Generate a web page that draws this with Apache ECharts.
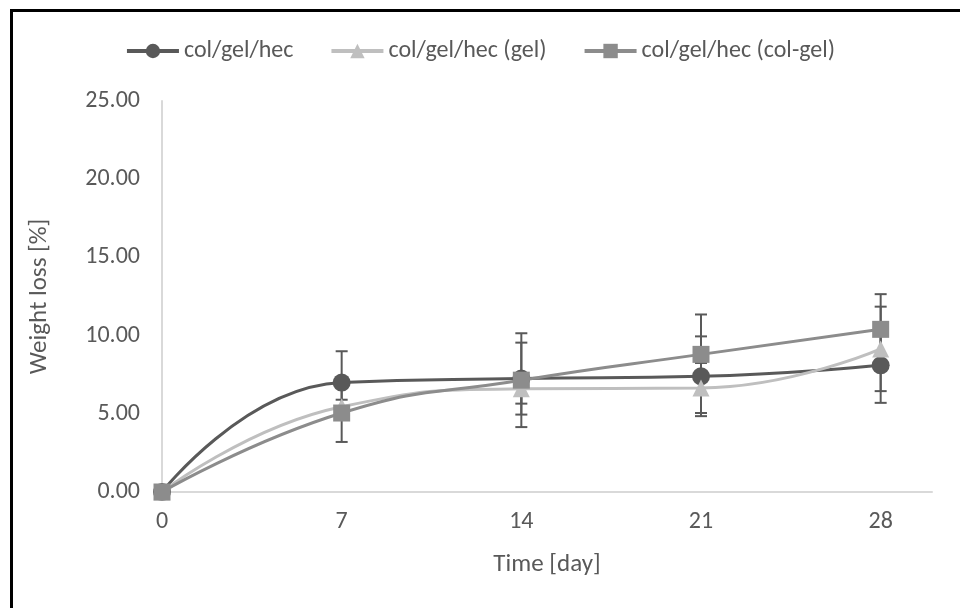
<!DOCTYPE html>
<html>
<head>
<meta charset="utf-8">
<script src="https://cdn.jsdelivr.net/npm/echarts@6/dist/echarts.min.js"></script>
<style>
  html, body { margin: 0; padding: 0; background: #fff; }
  #frame { position: absolute; left: 10px; top: 9px; width: 960px; height: 620px; border: 3px solid #000; box-sizing: border-box; }
  #chart { position: absolute; left: 0; top: 0; width: 960px; height: 608px; }
</style>
</head>
<body>
<div id="frame"></div>
<div id="chart"></div>
<script>
// days of measurement
var days = [0, 7, 14, 21, 28];
var seriesNames = ['col/gel/hec', 'col/gel/hec (gel)', 'col/gel/hec (col-gel)'];

// weight loss [%]
var colGelHec = [0, 7.0, 7.25, 7.4, 8.1];
var colGelHecGel = [0, 5.45, 6.6, 6.65, 9.15];
var colGelHecColGel = [0, 5.05, 7.15, 8.8, 10.4];

// error bars (+/-)
var errColGelHec = [0, 2.0, 2.3, 2.55, 2.4];
var errColGelHecGel = [0, 0.45, 0.95, 1.6, 2.7];
var errColGelHecColGel = [0, 1.85, 3.0, 2.55, 2.25];

var yTicks = [0, 5, 10, 15, 20, 25];

var font = "Carlito, 'Liberation Sans Narrow', 'Noto Sans', sans-serif";
var textColor = '#595959';

var pairs = function(vals) {
    return days.map(function(d, i) { return [d, vals[i]]; });
};

var errorSeries = function(vals, errs) {
    return {
        type: 'custom',
        z: 1,
        silent: true,
        data: days.map(function(d, i) { return [d, vals[i] - errs[i], vals[i] + errs[i]]; }),
        renderItem: function(params, api) {
            var lo = api.coord([api.value(0), api.value(1)]);
            var hi = api.coord([api.value(0), api.value(2)]);
            var w = 6;
            var style = { stroke: '#595959', lineWidth: 2 };
            return {
                type: 'group',
                children: [
                    { type: 'line', shape: { x1: lo[0], y1: lo[1], x2: hi[0], y2: hi[1] }, style: style },
                    { type: 'line', shape: { x1: lo[0] - w, y1: lo[1], x2: lo[0] + w, y2: lo[1] }, style: style },
                    { type: 'line', shape: { x1: hi[0] - w, y1: hi[1], x2: hi[0] + w, y2: hi[1] }, style: style }
                ]
            };
        }
    };
};

var lineSeries = function(name, vals, color, symbol, size, z) {
    return {
        name: name,
        type: 'line',
        z: z,
        smooth: 0.5,
        symbol: symbol,
        symbolSize: size,
        data: pairs(vals),
        lineStyle: { color: color, width: 3 },
        itemStyle: { color: color }
    };
};

var myChart = echarts.init(document.getElementById('chart'));

var option = {
    backgroundColor: 'transparent',
    animation: false,
    legend: {
        top: 34,
        left: 'center',
        itemWidth: 52,
        itemHeight: 18,
        itemGap: 36,
        lineStyle: { width: 4 },
        textStyle: { color: textColor, fontSize: 24, fontFamily: font },
        data: seriesNames
    },
    grid: { left: 162, right: 28, top: 101, bottom: 116 },
    xAxis: {
        type: 'value',
        min: 0,
        max: 30,
        interval: 7,
        name: 'Time [day]',
        nameLocation: 'middle',
        nameGap: 60,
        nameTextStyle: { color: textColor, fontSize: 25, fontFamily: font },
        axisLine: { lineStyle: { color: '#d9d9d9', width: 2 } },
        axisTick: { show: false },
        splitLine: { show: false },
        axisLabel: {
            color: textColor, fontSize: 24, fontFamily: font, margin: 18,
            formatter: function(v) { return days.indexOf(v) >= 0 ? String(v) : ''; }
        }
    },
    yAxis: {
        type: 'value',
        min: yTicks[0],
        max: yTicks[yTicks.length - 1],
        interval: 5,
        name: 'Weight loss [%]',
        nameLocation: 'middle',
        nameGap: 110,
        nameTextStyle: { color: textColor, fontSize: 25, fontFamily: font },
        axisLine: { show: true, lineStyle: { color: '#d9d9d9', width: 2 } },
        axisTick: { show: false },
        splitLine: { show: false },
        axisLabel: {
            color: textColor, fontSize: 24, fontFamily: font, margin: 22,
            formatter: function(v) { return v.toFixed(2); }
        }
    },
    series: [
        errorSeries(colGelHec, errColGelHec),
        errorSeries(colGelHecGel, errColGelHecGel),
        errorSeries(colGelHecColGel, errColGelHecColGel),
        lineSeries(seriesNames[0], colGelHec, '#595959', 'circle', 18, 3),
        lineSeries(seriesNames[1], colGelHecGel, '#bfbfbf', 'triangle', 17, 4),
        lineSeries(seriesNames[2], colGelHecColGel, '#8c8c8c', 'rect', 17, 5)
    ]
};

myChart.setOption(option);
</script>
</body>
</html>
